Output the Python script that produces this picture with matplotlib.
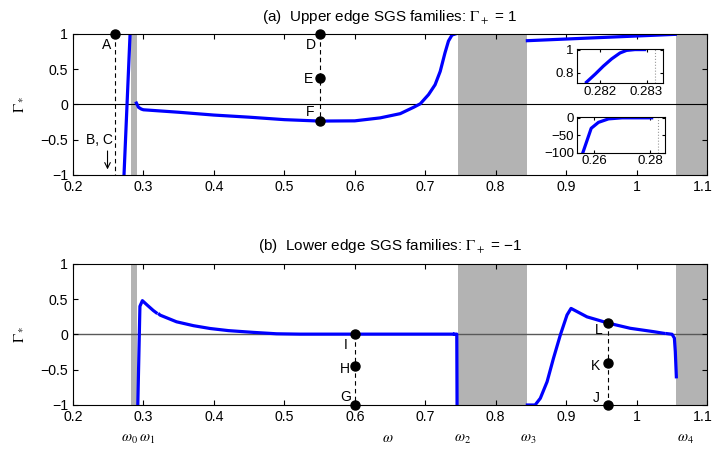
import numpy as np
import matplotlib.pyplot as plt
import matplotlib.transforms as mtransforms

plt.rcParams['font.family'] = ['Liberation Sans', 'DejaVu Sans']
plt.rcParams['mathtext.fontset'] = 'stix'
plt.rcParams['font.size'] = 10

nan = np.nan

# forbidden frequency bands (shaded grey)
band_lo = [0.2822, 0.7465, 1.0561]
band_hi = [0.2905, 0.8445, 1.10]

# (a) upper edge families
a_left_x = [0.2724, 0.2810]
a_left_y = [-1.0, 1.0]
a_mid_x = [0.2900, 0.2930, 0.2970, 0.300, 0.350, 0.400, 0.450, 0.500, 0.550, 0.600,
           0.636, 0.6645, 0.6834, 0.693, 0.7047, 0.714, 0.7213, 0.728, 0.733, 0.738, 0.7426]
a_mid_y = [0.02, -0.04, -0.065, -0.075, -0.11, -0.15, -0.18, -0.215, -0.235, -0.232,
           -0.19, -0.13, -0.04, 0.01, 0.14, 0.28, 0.47, 0.73, 0.90, 0.985, 1.0]
a_right_x = [0.845, 0.950, 1.055]
a_right_y = [0.905, 0.950, 0.995]

# insets of panel (a)
in1_x = [0.28171, 0.28190, 0.28207, 0.28225, 0.28243, 0.28257, 0.28275, 0.28296]
in1_y = [0.72, 0.79, 0.857, 0.92, 0.971, 0.993, 1.0, 1.0]
in1_mark = 0.28318
in2_x = [0.2559, 0.2589, 0.2615, 0.2651, 0.2700, 0.2806]
in2_y = [-100, -30, -13, -3, 0, 0]
in2_mark = 0.2830

# (b) lower edge families
b_left_x = [0.2920, 0.2950, 0.2985, 0.3050, 0.3140, 0.3180, nan, 0.3225, 0.3236, 0.347, 0.371,
            0.3946, 0.4206, 0.456, 0.489, 0.522, 0.600, 0.7393, nan, 0.7416, 0.7448, 0.7452]
b_left_y = [-1.0, 0.40, 0.48, 0.42, 0.34, 0.31, nan, 0.285, 0.275, 0.18, 0.125,
            0.085, 0.055, 0.03, 0.01, 0.005, 0.005, 0.005, nan, 0.005, 0.005, -1.0]
b_right_x = [0.845, 0.856, 0.8634, 0.873, 0.882, 0.8918, 0.9013, 0.907, 0.9297, 0.9604,
             0.991, 1.0243, 1.0385, nan, 1.0433, 1.0504, 1.0537, 1.055, 1.0565]
b_right_y = [-1.0, -1.0, -0.905, -0.67, -0.34, -0.007, 0.277, 0.37, 0.25, 0.16,
             0.088, 0.04, 0.017, nan, 0.012, 0.003, -0.05, -0.24, -0.6]

# labelled solutions
a_pts_x = [0.26, 0.55, 0.55, 0.55]
a_pts_y = [1.0, 1.0, 0.38, -0.235]
a_pts_lab = ['A', 'D', 'E', 'F']
b_pts_x = [0.60, 0.60, 0.60, 0.96, 0.96, 0.96]
b_pts_y = [-1.0, -0.45, 0.005, -1.0, -0.40, 0.16]
b_pts_lab = ['G', 'H', 'I', 'J', 'K', 'L']

xticks = [0.2, 0.3, 0.4, 0.5, 0.6, 0.7, 0.8, 0.9, 1.0, 1.1]
xtick_labels = ['0.2', '0.3', '0.4', '0.5', '0.6', '0.7', '0.8', '0.9', '1', '1.1']
yticks = [-1, -0.5, 0, 0.5, 1]
ytick_labels = ['\u22121', '\u22120.5', '0', '0.5', '1']

omega_names = ['$\\omega_0$', '$\\omega_1$', '$\\omega_2$', '$\\omega_3$', '$\\omega_4$']
omega_pos = [0.268, 0.294, 0.741, 0.835, 1.057]

blue = '#0000ff'
grey = '#b3b3b3'
lw = 2.3

fig = plt.figure(figsize=(7.15, 4.55), dpi=100)
ax1 = fig.add_axes([0.1021, 0.6154, 0.8867, 0.3099])
ax2 = fig.add_axes([0.1021, 0.1099, 0.8867, 0.3099])


def style(ax):
    for lo, hi in zip(band_lo, band_hi):
        ax.axvspan(lo, hi, color=grey, lw=0, zorder=0)
    ax.set_xlim(0.2, 1.1)
    ax.set_ylim(-1, 1)
    ax.set_xticks(xticks)
    ax.set_xticklabels(xtick_labels)
    ax.set_yticks(yticks)
    ax.set_yticklabels(ytick_labels)
    ax.tick_params(direction='in', top=True, right=True, length=3.5, labelsize=10.2)
    ax.set_ylabel('$\\Gamma_*$', fontsize=11, labelpad=11)
    # nudge the last label ("1.1") so it stays inside the figure
    last = ax.get_xticklabels()[-1]
    last.set_transform(last.get_transform() +
                       mtransforms.ScaledTranslation(-4 / 100, 0, fig.dpi_scale_trans))


# ---- panel (a)
style(ax1)
ax1.axhline(0, color='k', lw=0.8, zorder=1)
ax1.plot(a_left_x, a_left_y, color=blue, lw=lw, zorder=2)
ax1.plot(a_mid_x, a_mid_y, color=blue, lw=lw, zorder=2)
ax1.plot(a_right_x, a_right_y, color=blue, lw=lw, zorder=2)
ax1.plot([0.26, 0.26], [1, -1], 'k--', lw=0.8, dashes=(4, 3), zorder=3)
ax1.plot([0.55, 0.55], [1, -0.235], 'k--', lw=0.8, dashes=(4, 3), zorder=3)
ax1.plot(a_pts_x, a_pts_y, 'o', color='k', ms=6.5, clip_on=False, zorder=4)
a_lab_xy = [(0.248, 0.84), (0.537, 0.84), (0.535, 0.36), (0.537, -0.11)]
for lab, (tx, ty) in zip(a_pts_lab, a_lab_xy):
    ax1.text(tx, ty, lab, ha='center', va='center', fontsize=10)
ax1.annotate('', xy=(0.249, -0.96), xytext=(0.249, -0.62),
             arrowprops=dict(arrowstyle='->', color='k', lw=0.8))
ax1.text(0.237, -0.5, 'B, C', ha='center', va='center', fontsize=10)
ax1.set_title('(a)  Upper edge SGS families: $\\Gamma_+$ = 1', fontsize=11, pad=9)

# insets
ins1 = fig.add_axes([0.8066, 0.8169, 0.1211, 0.0754])
ins1.plot(in1_x, in1_y, color=blue, lw=lw)
ins1.axvline(in1_mark, color='0.6', ls=':', lw=0.8)
ins1.set_xlim(0.28150, 0.28336)
ins1.set_ylim(0.71, 1.005)
ins1.set_xticks([0.282, 0.283])
ins1.set_xticklabels(['0.282', '0.283'])
ins1.set_yticks([0.8, 1.0])
ins1.set_yticklabels(['0.8', '1'])
ins1.tick_params(direction='in', top=True, right=True, length=2.5, labelsize=9.5, pad=2)

ins2 = fig.add_axes([0.8066, 0.6644, 0.1235, 0.0774])
ins2.plot(in2_x, in2_y, color=blue, lw=lw)
ins2.axvline(in2_mark, color='0.6', ls=':', lw=0.8)
ins2.set_xlim(0.2537, 0.2854)
ins2.set_ylim(-100, 1)
ins2.set_xticks([0.26, 0.28])
ins2.set_xticklabels(['0.26', '0.28'])
ins2.set_yticks([-100, -50, 0])
ins2.set_yticklabels(['\u2212100', '\u221250', '0'])
ins2.tick_params(direction='in', top=True, right=True, length=2.5, labelsize=9.5, pad=2)

# ---- panel (b)
style(ax2)
ax2.axhline(0, color='0.35', lw=1.0, zorder=1)
ax2.plot(b_left_x, b_left_y, color=blue, lw=lw, zorder=2)
ax2.plot(b_right_x, b_right_y, color=blue, lw=lw, zorder=2)
ax2.plot([0.60, 0.60], [0.005, -1], 'k--', lw=0.8, dashes=(4, 3), zorder=3)
ax2.plot([0.96, 0.96], [0.16, -1], 'k--', lw=0.8, dashes=(4, 3), zorder=3)
ax2.plot(b_pts_x, b_pts_y, 'o', color='k', ms=6.5, clip_on=False, zorder=4)
b_lab_xy = [(0.5876, -0.88), (0.586, -0.49), (0.5876, -0.15),
            (0.943, -0.9), (0.9415, -0.45), (0.946, 0.06)]
for lab, (tx, ty) in zip(b_pts_lab, b_lab_xy):
    ax2.text(tx, ty, lab, ha='center', va='center', fontsize=10)
ax2.set_title('(b)  Lower edge SGS families: $\\Gamma_+$ = \u22121', fontsize=11, pad=10)

# omega labels under the lower axis
trans = ax2.get_xaxis_transform()
ax2.text(0.647, -0.259, '$\\omega$', transform=trans, ha='center', va='baseline', fontsize=10.5)
for name, xp in zip(omega_names, omega_pos):
    ax2.text(xp, -0.259, name, transform=trans, ha='left', va='baseline', fontsize=10.5)

fig.savefig('out.png', dpi=100)
